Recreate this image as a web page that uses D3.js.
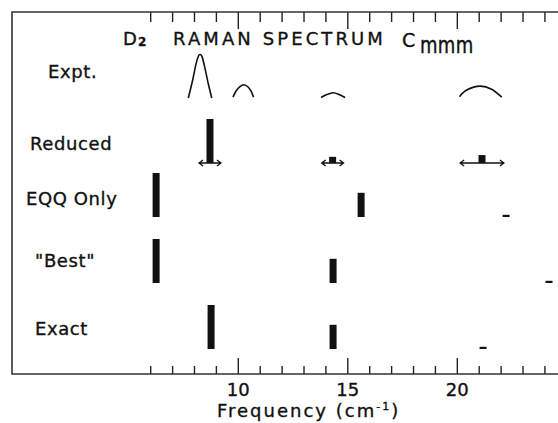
<!DOCTYPE html>
<html>
<head>
<meta charset="utf-8">
<script src="https://cdn.jsdelivr.net/npm/d3@7"></script>
<style>
  body { margin: 0; background: #fff; }
  svg { display: block; }
  text { font-family: "DejaVu Sans", sans-serif; fill: #111; stroke: #111; stroke-width: 0.35px; }
</style>
</head>
<body>
<svg width="558" height="423"></svg>
<script>
// rows of the spectrum, top to bottom
var rows = ["Expt.", "Reduced", "EQQ Only", "\"Best\"", "Exact"];

var expt1Freq = [7.74, 7.94, 8.09, 8.20, 8.28, 8.37, 8.50, 8.65, 8.81];
var expt1Int  = [0.00, 0.41, 0.77, 0.95, 0.99, 0.94, 0.68, 0.33, 0.00];
var expt2Freq = [9.78, 9.92, 10.10, 10.28, 10.47, 10.60, 10.72];
var expt2Int  = [0.02, 0.16, 0.26, 0.30, 0.25, 0.16, 0.02];
var expt3Freq = [13.80, 14.07, 14.36, 14.62, 14.90];
var expt3Int  = [0.01, 0.08, 0.12, 0.08, 0.01];
var expt4Freq = [20.12, 20.45, 21.06, 21.59, 22.05];
var expt4Int  = [0.03, 0.18, 0.27, 0.20, 0.02];

// calculated lines
var reducedFreq = [8.73, 14.33, 21.15];
var reducedInt  = [1.00, 0.14, 0.18];
var reducedErr  = [0.5, 0.5, 1.0];
var eqqFreq  = [6.27, 15.63, 22.25];
var eqqInt   = [1.00, 0.55, 0.05];
var bestFreq = [6.27, 14.35, 24.21];
var bestInt  = [1.00, 0.55, 0.05];
var exactFreq = [8.78, 14.35, 21.2];
var exactInt  = [1.00, 0.55, 0.05];

var minorTicks = d3.range(6, 25);
var majorTicks = [10, 15, 20];

var svg = d3.select("svg"),
    width = +svg.attr("width"),
    height = +svg.attr("height");

var frameLeft = 12, frameTop = 12, frameBottom = 374;

var x = d3.scaleLinear().domain([-0.31, 24.62]).range([frameLeft, width]);
var h = d3.scaleLinear().domain([0, 1]).range([0, 44]);
var base = d3.scaleOrdinal().domain(rows).range([98, 163, 217, 283, 349]);
var labelY = d3.scaleOrdinal().domain(rows).range([78, 150, 205, 267, 335]);
var labelX = d3.scaleOrdinal().domain(rows).range([48, 30, 26, 35, 35]);

var minorOnly = minorTicks.filter(function(d){ return majorTicks.indexOf(d) < 0; });

// bottom ticks
svg.append("g")
    .attr("transform", "translate(0," + frameBottom + ")")
    .call(d3.axisBottom(x).tickValues(minorOnly).tickSize(-8).tickSizeOuter(0).tickFormat(""))
    .call(function(g){ g.select(".domain").remove(); });
svg.append("g")
    .attr("class", "major")
    .attr("transform", "translate(0," + frameBottom + ")")
    .call(d3.axisBottom(x).tickValues(majorTicks).tickSize(-16).tickSizeOuter(0))
    .call(function(g){ g.select(".domain").remove(); });

// top ticks
svg.append("g")
    .attr("transform", "translate(0," + frameTop + ")")
    .call(d3.axisTop(x).tickValues(minorOnly).tickSize(-10).tickSizeOuter(0).tickFormat(""))
    .call(function(g){ g.select(".domain").remove(); });
svg.append("g")
    .attr("transform", "translate(0," + frameTop + ")")
    .call(d3.axisTop(x).tickValues(majorTicks).tickSize(-17).tickSizeOuter(0).tickFormat(""))
    .call(function(g){ g.select(".domain").remove(); });

svg.selectAll(".tick line").attr("stroke", "#222").attr("stroke-width", 1.4);
svg.selectAll(".major .tick text")
    .attr("y", 22)
    .attr("dy", 0)
    .style("font-size", "18px")
    .style("font-family", "DejaVu Sans, sans-serif")
    .attr("fill", "#111");

// frame (no right edge in the original)
svg.append("path")
    .attr("d", "M" + width + "," + frameTop + "H" + frameLeft + "V" + frameBottom + "H" + width)
    .attr("fill", "none")
    .attr("stroke", "#333")
    .attr("stroke-width", 1.6);

// axis title
var xt = svg.append("text")
    .attr("x", 217).attr("y", 417)
    .style("font-size", "18px")
    .style("letter-spacing", "2px");
xt.append("tspan").text("Frequency (cm");
xt.append("tspan").attr("dy", -7).style("font-size", "11px").text("-1");
xt.append("tspan").attr("dy", 7).text(")");

// chart title
var title = svg.append("g");
title.append("text").attr("x", 123).attr("y", 45).style("font-size", "18px").text("D");
title.append("text").attr("x", 138).attr("y", 46).style("font-size", "12px").style("font-weight", "bold").text("2");
title.append("text").attr("x", 173).attr("y", 45).style("font-size", "18px")
    .style("letter-spacing", "3.1px").text("RAMAN SPECTRUM");
title.append("text").attr("x", 402).attr("y", 47).style("font-size", "19px").text("C");
title.append("text").attr("transform", "translate(420,53) scale(1,1.25)")
    .style("font-size", "18px")
    .style("letter-spacing", "0.3px").text("mmm");

// row labels
svg.selectAll(".rowlabel")
    .data(rows)
    .enter()
    .append("text")
    .attr("class", "rowlabel")
    .attr("x", function(d){ return labelX(d); })
    .attr("y", function(d){ return labelY(d); })
    .style("font-size", "18px")
    .style("letter-spacing", "0.6px")
    .text(function(d){ return d; });

// experimental curves
var line = d3.line()
    .x(function(d){ return x(d[0]); })
    .y(function(d){ return base("Expt.") - h(d[1]); })
    .curve(d3.curveCardinal.tension(0.2));

var curves = [
    d3.zip(expt1Freq, expt1Int),
    d3.zip(expt2Freq, expt2Int),
    d3.zip(expt3Freq, expt3Int),
    d3.zip(expt4Freq, expt4Int)
];
svg.append("g")
    .selectAll("path")
    .data(curves)
    .enter()
    .append("path")
    .attr("d", line)
    .attr("fill", "none")
    .attr("stroke", "#111")
    .attr("stroke-width", 1.6);

// calculated line intensities
var sets = [
    { row: "Reduced", freq: reducedFreq, val: reducedInt },
    { row: "EQQ Only", freq: eqqFreq, val: eqqInt },
    { row: "\"Best\"", freq: bestFreq, val: bestInt },
    { row: "Exact", freq: exactFreq, val: exactInt }
];
var barW = 7;
sets.forEach(function(s){
    svg.append("g")
        .selectAll("rect")
        .data(d3.zip(s.freq, s.val))
        .enter()
        .append("rect")
        .attr("x", function(d){ return x(d[0]) - barW / 2; })
        .attr("width", barW)
        .attr("y", function(d){ return base(s.row) - Math.max(h(d[1]), 2); })
        .attr("height", function(d){ return Math.max(h(d[1]), 2); })
        .attr("fill", "#111");
});

// uncertainty arrows on the reduced model
var ay = base("Reduced");
svg.append("g")
    .selectAll("path")
    .data(d3.zip(reducedFreq, reducedErr))
    .enter()
    .append("path")
    .attr("d", function(d){
        var a = x(d[0] - d[1]), b = x(d[0] + d[1]);
        return "M" + a + "," + ay + "H" + b +
            "M" + (a + 4) + "," + (ay - 3) + "L" + a + "," + ay + "L" + (a + 4) + "," + (ay + 3) +
            "M" + (b - 4) + "," + (ay - 3) + "L" + b + "," + ay + "L" + (b - 4) + "," + (ay + 3);
    })
    .attr("fill", "none")
    .attr("stroke", "#111")
    .attr("stroke-width", 1.3);
</script>
</body>
</html>
